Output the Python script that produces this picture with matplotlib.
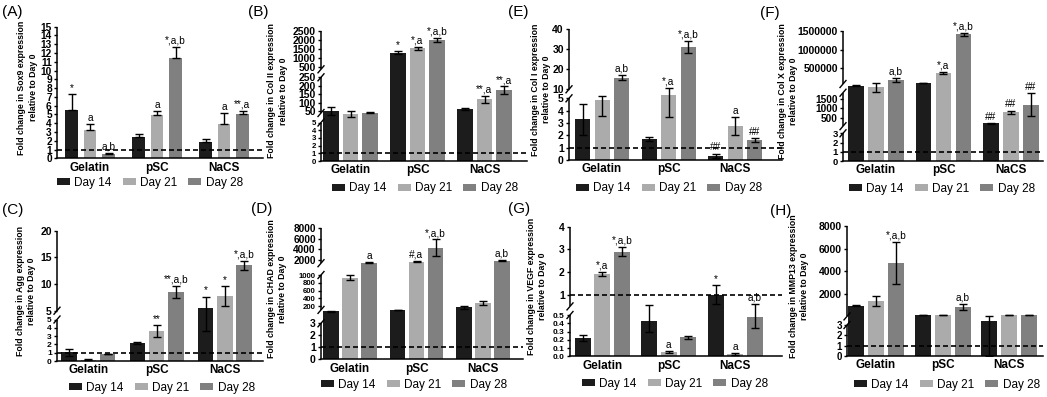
import numpy as np
import matplotlib
matplotlib.use("Agg")
import matplotlib.pyplot as plt
from matplotlib.patches import Patch

plt.rcParams['font.family'] = ['Liberation Sans', 'DejaVu Sans']

# ---------------- data ----------------
groups = ["Gelatin", "pSC", "NaCS"]
days = ["Day 14", "Day 21", "Day 28"]

# (A) Sox9   rows: groups, columns: days
sox9_mean = [[5.5, 3.2, 0.5], [2.4, 4.95, 11.4], [1.85, 3.95, 5.1]]
sox9_err = [[1.8, 0.7, 0.1], [0.35, 0.45, 1.25], [0.35, 1.2, 0.3]]
sox9_sig = [["*", "a", "a,b"], ["", "a", "*,a,b"], ["", "a", "**,a"]]
sox9_ticks = [["0", "1", "2", "3", "4", "5", "6", "7", "8", "9", "10", "11", "12", "13", "14", "15"]]

# (B) Col II
colII_mean = [[52, 36, 40], [1290, 1530, 1990], [62, 119, 172]]
colII_err = [[20, 12, 3], [80, 80, 110], [5, 21, 24]]
colII_sig = [["", "", ""], ["*", "*,a", "*,a,b"], ["", "**,a", "**,a"]]
colII_ticks = [["0", "1", "2", "3", "4", "5"], ["50", "100", "150", "200", "250"],
               ["500", "1000", "1500", "2000", "2500"]]

# (C) Agg
agg_mean = [[1.05, 0.15, 0.85], [2.2, 3.6, 8.5], [5.6, 7.7, 13.5]]
agg_err = [[0.4, 0.05, 0.05], [0.1, 0.7, 1.2], [2.0, 1.9, 0.9]]
agg_sig = [["", "", ""], ["", "**", "**,a,b"], ["*", "*", "*,a,b"]]
agg_ticks = [["0", "1", "2", "3", "4", "5"], ["5", "10", "15", "20"]]

# (D) CHAD
chad_mean = [[90, 930, 1530], [105, 1720, 4340], [172, 275, 1900]]
chad_err = [[5, 60, 60], [5, 100, 1560], [40, 50, 150]]
chad_sig = [["", "", "a"], ["", "#,a", "*,a,b"], ["", "", "a,b"]]
chad_ticks = [["0", "1", "2", "3"], ["200", "400", "600", "800", "1000"],
              ["2000", "4000", "6000", "8000"]]

# (E) Col I
colI_mean = [[3.3, 4.9, 15.8], [1.7, 7.0, 31], [0.35, 2.75, 1.6]]
colI_err = [[1.25, 1.3, 1.2], [0.15, 3.5, 3], [0.15, 0.7, 0.15]]
colI_sig = [["", "", "a,b"], ["", "*,a", "*,a,b"], ["##", "a", "##"]]
colI_ticks = [["0", "1", "2", "3", "4", "5"], ["10", "20", "30", "40"]]

# (F) Col X
colX_mean = [[65000, 57000, 187000], [113000, 373000, 1410000], [229, 800, 1190]]
colX_err = [[3000, 45000, 45000], [5000, 20000, 40000], [20, 80, 600]]
colX_sig = [["", "", "a,b"], ["", "*,a", "*,a,b"], ["##", "##", "##"]]
colX_ticks = [["0", "1", "2", "3"], ["500", "1000", "1500"],
              ["500000", "1000000", "1500000"]]

# (G) VEGF
vegf_mean = [[0.22, 1.93, 2.9], [0.43, 0.055, 0.23], [1.02, 0.025, 0.47]]
vegf_err = [[0.04, 0.1, 0.2], [0.14, 0.01, 0.02], [0.42, 0.01, 0.13]]
vegf_sig = [["", "*,a", "*,a,b"], ["", "a", ""], ["*", "a", "a,b"]]
vegf_ticks = [["0.0", "0.1", "0.2", "0.3", "0.4", "0.5"], ["1", "2", "3", "4"]]

# (H) MMP13
mmp13_mean = [[956, 1370, 4757], [120, 120, 867], [6.3, 120, 120]]
mmp13_err = [[50, 470, 1870], [10, 10, 265], [65, 10, 10]]
mmp13_sig = [["", "", "*,a,b"], ["", "", "a,b"], ["", "", ""]]
mmp13_ticks = [["0", "1", "2", "3"], ["2000", "4000", "6000", "8000"]]

# ---------------- styling / layout ----------------
W, H, DPI = 1047, 397, 100
day_colors = ["#1c1c1c", "#ababab", "#808080"]

panels = [
    dict(tag="(A)", tagpos=(2, 12), gene="Sox9", mean=sox9_mean, err=sox9_err, sig=sox9_sig,
         ticks=sox9_ticks, tfs=[7.3], upper_only=True,
         segs=[(0, 15, 158.3, 26.7)],
         x=(57, 263, 90, 67, 12.5, 18.5), ylab_x=27.5, leg=(150, 183)),
    dict(tag="(B)", tagpos=(248, 12), gene="Col II", mean=colII_mean, err=colII_err, sig=colII_sig,
         ticks=colII_ticks, tfs=[5.6, 7.5, 7.5], upper_only=False,
         segs=[(0, 5, 161, 122.5), (38, 250, 113, 77.3), (373, 2500, 69.3, 30.7)],
         x=(321, 527, 350.5, 67, 15.5, 19.5), ylab_x=277.5, leg=(425, 188.5)),
    dict(tag="(E)", tagpos=(508, 12), gene="Col I", mean=colI_mean, err=colI_err, sig=colI_sig,
         ticks=colI_ticks, tfs=[7.5, 7.5], upper_only=False,
         segs=[(0, 5, 160, 98.3), (10, 40, 89.3, 29.3)],
         x=(569, 782, 602, 66.5, 15, 19.5), ylab_x=541, leg=(669, 188.5)),
    dict(tag="(F)", tagpos=(760, 13), gene="Col X", mean=colX_mean, err=colX_err, sig=colX_sig,
         ticks=colX_ticks, tfs=[6.8, 7.3, 7.5], upper_only=False,
         segs=[(0, 3, 161, 133.3), (80, 1800, 126.2, 92.7), (80000, 1500000, 84, 31)],
         x=(843, 1043, 876, 67.5, 15.5, 20), ylab_x=788, leg=(942, 189)),
    dict(tag="(C)", tagpos=(2, 210), gene="Agg", mean=agg_mean, err=agg_err, sig=agg_sig,
         ticks=agg_ticks, tfs=[6.0, 7.5], upper_only=False,
         segs=[(0, 5, 361, 319.5), (5, 20, 310.7, 230.7)],
         x=(57, 263, 88.3, 68.3, 15.5, 19.3), ylab_x=26, leg=(162, 388)),
    dict(tag="(D)", tagpos=(251, 209), gene="CHAD", mean=chad_mean, err=chad_err, sig=chad_sig,
         ticks=chad_ticks, tfs=[7.5, 5.6, 7.3], upper_only=False,
         segs=[(0, 3, 359.3, 323.3), (100, 1000, 309.9, 275), (1400, 8000, 263.2, 228.3)],
         x=(321, 523, 350, 66.5, 15.5, 19), ylab_x=277, leg=(414, 385)),
    dict(tag="(G)", tagpos=(508, 209), gene="VEGF", mean=vegf_mean, err=vegf_err, sig=vegf_sig,
         ticks=vegf_ticks, tfs=[6.0, 7.5], upper_only=False,
         segs=[(0, 0.5, 356.3, 315), (0.5, 4, 306.4, 226.7)],
         x=(570, 782, 602.3, 66.5, 16, 19.5), ylab_x=537, leg=(675, 384)),
    dict(tag="(H)", tagpos=(770, 211), gene="MMP13", mean=mmp13_mean, err=mmp13_err, sig=mmp13_sig,
         ticks=mmp13_ticks, tfs=[7.0, 7.5], upper_only=False,
         segs=[(0, 3, 356, 325), (10, 8000, 316.4, 226)],
         x=(847, 1043, 876, 66.5, 16, 20), ylab_x=799, leg=(947, 385)),
]

fig = plt.figure(figsize=(W / DPI, H / DPI), dpi=DPI)


def draw_panel(p):
    xl, xr, c0, sp, bw, pitch = p["x"]
    segs = p["segs"]
    ybot, ytop = segs[0][2], segs[-1][3]
    ax = fig.add_axes([xl / W, 1 - ybot / H, (xr - xl) / W, (ybot - ytop) / H])

    vals, hs, adj = [], [], []
    for (v0, v1, p0, p1) in segs:
        if vals and v0 <= vals[-1]:
            v0 = vals[-1] + 1e-6 * (v1 - vals[-1])
        vals += [v0, v1]
        hs += [ybot - p0, ybot - p1]
        adj.append((v0, v1))
    vals = np.array(vals, float)
    hs = np.array(hs, float)

    def fwd(v):
        return np.interp(v, vals, hs)

    def inv(h):
        return np.interp(h, hs, vals)

    ax.set_yscale("function", functions=(fwd, inv))

    xg = np.arange(len(groups))
    for d in range(len(days)):
        xs = xg + (d - 1) * pitch / sp
        means = np.array([p["mean"][g][d] for g in range(len(groups))], float)
        errs = np.array([p["err"][g][d] for g in range(len(groups))], float)
        ax.bar(xs, means, width=bw / sp, color=day_colors[d], zorder=2, linewidth=0)
        yerr = [np.zeros_like(errs), errs] if p["upper_only"] else errs
        ax.errorbar(xs, means, yerr=yerr, fmt="none", ecolor="black", elinewidth=1.0,
                    capsize=3.0, capthick=1.0, zorder=3)
        for g in range(len(groups)):
            s = p["sig"][g][d]
            if s:
                ax.annotate(s, (xs[g], means[g] + errs[g]), xytext=(0, 1.0),
                            textcoords="offset points", ha="center", va="bottom",
                            fontsize=7.3, zorder=5)

    ax.axhline(1, color="black", lw=1.2, ls=(0, (3, 1.8)), zorder=4)

    ax.set_xlim((xl - c0) / sp, (xr - c0) / sp)
    ax.set_ylim(0, vals[-1])

    # y ticks per segment
    tpos, tlab, tsz = [], [], []
    for i, tl in enumerate(p["ticks"]):
        for s in tl:
            v = float(s)
            if v == segs[i][0]:
                v = adj[i][0]
            tpos.append(v)
            tlab.append(s)
            tsz.append(p["tfs"][i])
    ax.set_yticks(tpos, tlab, fontweight="bold")
    for lab, sz in zip(ax.get_yticklabels(), tsz):
        lab.set_fontsize(sz)
    ax.yaxis.set_minor_locator(matplotlib.ticker.NullLocator())
    ax.tick_params(axis="y", direction="out", length=2.5, width=1.0, pad=1.2)

    ax.set_xticks(xg, groups, fontsize=8.5, fontweight="bold")
    ax.tick_params(axis="x", length=0, pad=2.5)

    for sname in ("left", "top", "right"):
        ax.spines[sname].set_visible(False)
    ax.spines["bottom"].set_linewidth(1.1)

    # broken y axis line
    ytr = ax.get_yaxis_transform()
    for (v0, v1) in adj:
        ax.plot([0, 0], [v0, v1], transform=ytr, color="black", lw=1.1,
                clip_on=False, solid_capstyle="butt", zorder=6)
    axw, axh = xr - xl, ybot - ytop
    dx, dy = 3.0 / axw, 3.5 / axh
    for i in range(len(segs) - 1):
        for hpx in (ybot - segs[i][3], ybot - segs[i + 1][2]):
            f = hpx / axh
            ax.plot([-dx, dx], [f - dy, f + dy], transform=ax.transAxes, color="black",
                    lw=1.0, clip_on=False, zorder=6)

    # y label
    yc = (ybot + ytop) / 2 - 5
    fig.text(p["ylab_x"] / W, 1 - yc / H,
             "Fold change in %s expression\nrelative to Day 0" % p["gene"],
             rotation=90, ha="center", va="center", fontsize=6.3, fontweight="bold",
             multialignment="center", linespacing=1.3)

    # panel tag
    fig.text(p["tagpos"][0] / W, 1 - p["tagpos"][1] / H, p["tag"], ha="left",
             va="center", fontsize=11)

    # legend
    handles = [Patch(facecolor=c, edgecolor="none") for c in day_colors]
    fig.legend(handles, days, loc="center",
               bbox_to_anchor=(p["leg"][0] / W, 1 - p["leg"][1] / H),
               ncol=3, frameon=False, fontsize=8.5, handlelength=1.1, handleheight=0.57,
               handletextpad=0.37, columnspacing=0.93, borderaxespad=0, borderpad=0)


for p in panels:
    draw_panel(p)

fig.savefig("out.png", dpi=DPI)
